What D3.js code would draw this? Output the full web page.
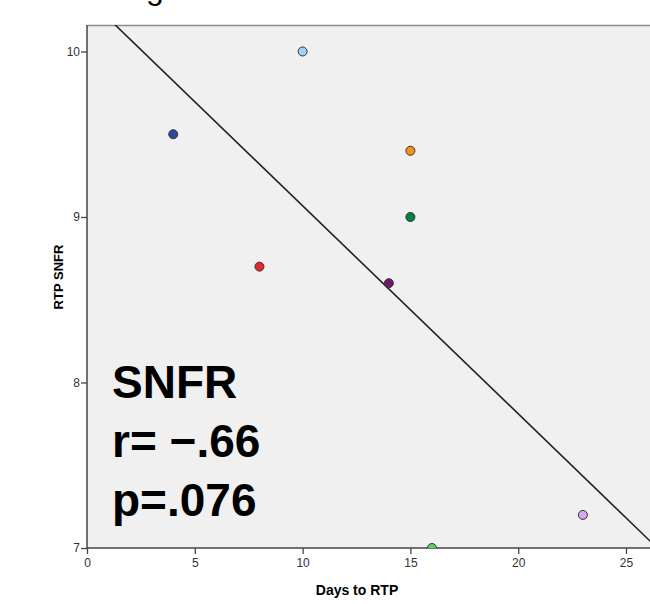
<!DOCTYPE html>
<html>
<head>
<meta charset="utf-8">
<script src="https://cdn.jsdelivr.net/npm/d3@7"></script>
<style>
  body { margin: 0; background: #fff; }
  svg { display: block; font-family: "Liberation Sans", Arial, sans-serif; }
</style>
</head>
<body>
<div id="chart"></div>
<script>
// days to RTP vs RTP SNFR, one dot per subject
const daysToRtp = [4, 8, 10, 14, 15, 15, 16, 23]
const rtpSnfr = [9.5, 8.7, 10.0, 8.6, 9.4, 9.0, 7.0, 7.2]
const dotColors = ['#2a4b9b', '#e8262a', '#a9cdee', '#6b1a6b', '#f5931e', '#00833f', '#5ccf6a', '#d8a8ec']
const xTicks = [0, 5, 10, 15, 20, 25]
const yTicks = [7, 8, 9, 10]
const statLines = ['SNFR', 'r= \u2212.66', 'p=.076']

const W = 650, H = 604
const plotL = 87, plotT = 25, plotB = 548

const svg = d3.select('#chart').append('svg')
  .attr('width', W).attr('height', H)

const x = d3.scaleLinear().domain([0, 30]).range([plotL, plotL + 30 * 21.56])
const y = d3.scaleLinear().domain([7, 10.16]).range([plotB, plotT])

svg.append('clipPath').attr('id', 'plot-clip')
  .append('rect')
  .attr('x', plotL).attr('y', plotT)
  .attr('width', W - plotL).attr('height', plotB - plotT)

// plot background + top frame
svg.append('rect')
  .attr('x', plotL).attr('y', plotT)
  .attr('width', W - plotL).attr('height', plotB - plotT)
  .attr('fill', '#f0f0f0')
svg.append('line')
  .attr('x1', plotL).attr('x2', W)
  .attr('y1', plotT + 0.5).attr('y2', plotT + 0.5)
  .attr('stroke', '#8c8c8c').attr('stroke-width', 1.5)

// title is cropped off in the source, only the 'g' tail shows
svg.append('text')
  .attr('x', 146).attr('y', -1)
  .attr('font-size', 32)
  .attr('fill', '#000')
  .text('g')

// least squares fit line
const mx = d3.mean(daysToRtp), my = d3.mean(rtpSnfr)
const sxy = d3.sum(daysToRtp, (d, i) => (d - mx) * (rtpSnfr[i] - my))
const sxx = d3.sum(daysToRtp, d => (d - mx) * (d - mx))
const slope = sxy / sxx
const icpt = my - slope * mx
const fitX = [0, 30]

svg.append('line')
  .attr('clip-path', 'url(#plot-clip)')
  .attr('x1', x(fitX[0])).attr('y1', y(icpt + slope * fitX[0]))
  .attr('x2', x(fitX[1])).attr('y2', y(icpt + slope * fitX[1]))
  .attr('stroke', '#222').attr('stroke-width', 1.6)

// axes
const xAxis = svg.append('g')
  .attr('transform', `translate(0,${plotB})`)
  .call(d3.axisBottom(x).tickValues(xTicks).tickSize(6).tickSizeOuter(0))
xAxis.select('.domain').attr('stroke', '#444').attr('stroke-width', 1.5)
  .attr('d', `M${plotL},0H${W}`)
xAxis.selectAll('.tick line').attr('stroke', '#444').attr('stroke-width', 1.3)
xAxis.selectAll('.tick text').attr('font-size', 12).attr('fill', '#333')
  .attr('font-family', '"Liberation Sans", Arial, sans-serif').attr('dy', '0.8em')

const yAxis = svg.append('g')
  .attr('transform', `translate(${plotL},0)`)
  .call(d3.axisLeft(y).tickValues(yTicks).tickFormat(d3.format('d')).tickSize(6).tickSizeOuter(0))
yAxis.select('.domain').attr('stroke', '#444').attr('stroke-width', 1.5)
  .attr('d', `M0,${plotT}V${plotB}`)
yAxis.selectAll('.tick line').attr('stroke', '#444').attr('stroke-width', 1.3)
yAxis.selectAll('.tick text').attr('font-size', 12).attr('fill', '#333')
  .attr('font-family', '"Liberation Sans", Arial, sans-serif').attr('x', -7)

// axis titles
svg.append('text')
  .attr('x', 357).attr('y', 595)
  .attr('text-anchor', 'middle')
  .attr('font-size', 14).attr('font-weight', 'bold')
  .text('Days to RTP')
svg.append('text')
  .attr('transform', 'translate(63,277) rotate(-90)')
  .attr('text-anchor', 'middle')
  .attr('font-size', 13).attr('font-weight', 'bold')
  .text('RTP SNFR')

// dots
svg.append('g').attr('clip-path', 'url(#plot-clip)')
  .selectAll('circle')
  .data(daysToRtp)
  .join('circle')
  .attr('cx', d => x(d))
  .attr('cy', (d, i) => y(rtpSnfr[i]))
  .attr('r', 4.5)
  .attr('fill', (d, i) => dotColors[i])
  .attr('stroke', '#333').attr('stroke-width', 1)

// stats block
svg.append('g').selectAll('text')
  .data(statLines)
  .join('text')
  .attr('x', 112)
  .attr('y', (d, i) => 398 + i * 59)
  .attr('font-size', 46).attr('font-weight', 'bold')
  .attr('fill', '#000')
  .text(d => d)
</script>
</body>
</html>
